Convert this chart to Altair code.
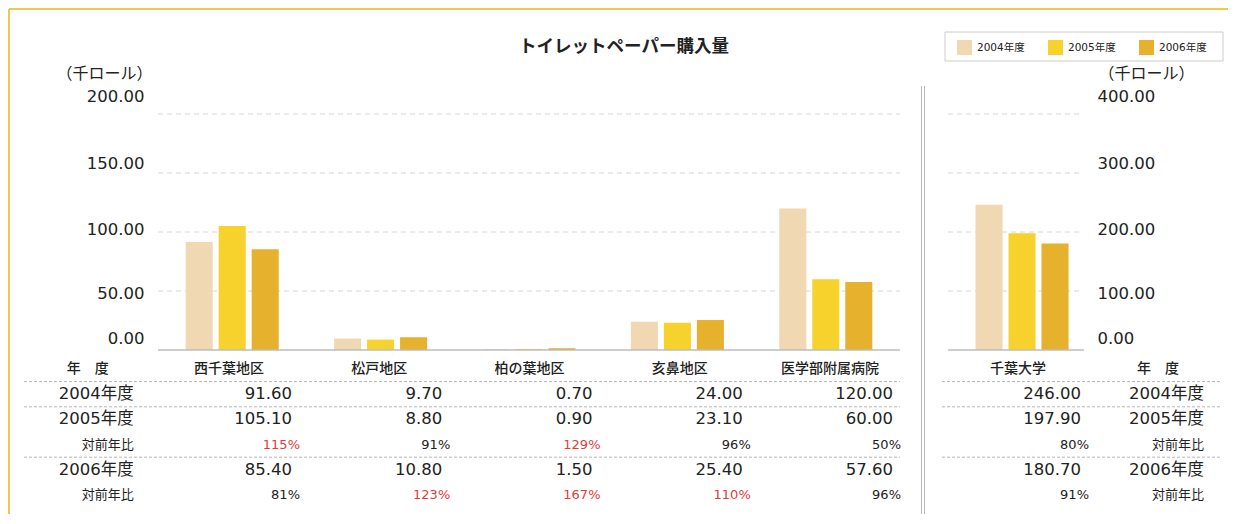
import altair as alt
import pandas as pd

FONT = "DejaVu Sans, Noto Sans CJK JP"
JP = "Noto Sans CJK JP"

title_text = "トイレットペーパー購入量"
years = ["2004年度", "2005年度", "2006年度"]
colors = ["#F0D8B2", "#F7D22C", "#E6B12C"]
unit_label = "（千ロール）"
label_col = "年　度"
ratio_label = "対前年比"

regions = ["西千葉地区", "松戸地区", "柏の葉地区", "亥鼻地区", "医学部附属病院"]
reg_2004 = [91.60, 9.70, 0.70, 24.00, 120.00]
reg_2005 = [105.10, 8.80, 0.90, 23.10, 60.00]
reg_2006 = [85.40, 10.80, 1.50, 25.40, 57.60]
reg_pct_2005 = [115, 91, 129, 96, 50]
reg_pct_2006 = [81, 123, 167, 110, 96]

univ = ["千葉大学"]
univ_2004 = [246.00]
univ_2005 = [197.90]
univ_2006 = [180.70]
univ_pct_2005 = [80]
univ_pct_2006 = [91]

left_ticks = [0, 50, 100, 150, 200]
right_ticks = [0, 100, 200, 300, 400]
tick_label_shift = [-12, 2, -3, -10, -18]
rows = ["header", "2004年度", "2005年度", "ratio2005", "2006年度", "ratio2006"]

one = pd.DataFrame({"a": [0]})


def bars_df(cats, v04, v05, v06):
    recs = []
    for vals, y in zip((v04, v05, v06), years):
        for c, v in zip(cats, vals):
            recs.append({"cat": c, "year": y, "v": v})
    return pd.DataFrame(recs)


def values_df(cats, v04, v05, v06):
    recs = []
    for vals, r in zip((v04, v05, v06), ["2004年度", "2005年度", "2006年度"]):
        for c, v in zip(cats, vals):
            recs.append({"cat": c, "row": r, "v": v})
    return pd.DataFrame(recs)


def pct_df(cats, p05, p06):
    recs = []
    for vals, r in zip((p05, p06), ["ratio2005", "ratio2006"]):
        for c, p in zip(cats, vals):
            recs.append({"cat": c, "row": r, "pct": p, "label": f"{p}%"})
    return pd.DataFrame(recs)


LEG = alt.Legend(
    orient="none", legendX=799, legendY=-74, direction="horizontal", title=None,
    symbolType="square", symbolSize=225, symbolStrokeWidth=0,
    labelFont=FONT, labelFontSize=10.5, labelColor="#222", labelOffset=5,
    padding=0, columnPadding=23,
)


def make_panel(cats, v04, v05, v06, p05, p06, x_domain, x_range, pad_in, off_pad,
               y_max, ticks, orient, width, grid_w, lab_dx, hdr_dx, sep_x, sep_x2, extra,
               title_x, title_align, tbl_scale=None):
    xs = alt.Scale(domain=x_domain, range=x_range, paddingInner=pad_in, paddingOuter=pad_in / 2)
    ts = tbl_scale if tbl_scale is not None else xs

    def X():
        return alt.X("cat:N", scale=xs, axis=None)

    def XT():
        return alt.X("cat:N", scale=ts, axis=None)

    ys = alt.Scale(domain=[0, y_max], range=[236, 0], nice=False)

    def Yr():
        return alt.Y("row:N", scale=alt.Scale(type="point", domain=rows, range=[255, 381], padding=0), axis=None)

    offset_cond = {
        "condition": [{"test": f"datum.value === {t}", "value": s} for t, s in zip(ticks, tick_label_shift)],
        "value": -8,
    }

    yaxis = alt.Axis(
        values=ticks, format=".2f", orient=orient, domain=False, ticks=False, grid=False,
        labelFont=FONT, labelFontSize=16.5,
        labelColor="#222", labelPadding=14 if orient == "left" else 13,
        labelAlign="right" if orient == "left" else "left",
        labelBaseline="middle", labelOffset=offset_cond,
        title=unit_label, titleAngle=0, titleX=title_x, titleY=-41, titleAlign=title_align,
        titleBaseline="middle", titleFont=JP, titleFontSize=16, titleFontWeight="normal",
        titleColor="#222",
    )

    grid = alt.Chart(pd.DataFrame({"t": ticks[1:]})).mark_rule(
        color="#d6d6d6", strokeDash=[5, 4], strokeWidth=1
    ).encode(y=alt.Y("t:Q", scale=ys, axis=None), x=alt.value(0), x2=alt.value(grid_w))

    bars = alt.Chart(bars_df(cats, v04, v05, v06)).mark_bar().encode(
        x=X(),
        xOffset=alt.XOffset("year:N", scale=alt.Scale(domain=years, paddingInner=off_pad, paddingOuter=0)),
        y=alt.Y("v:Q", scale=ys, axis=yaxis),
        color=alt.Color("year:N", scale=alt.Scale(domain=years, range=colors), legend=LEG),
    )

    base = alt.Chart(one).mark_rule(color="#bdbdbd", strokeWidth=1.5).encode(
        y=alt.Y(datum=0, type="quantitative", scale=ys, axis=None),
        x=alt.value(0), x2=alt.value(width),
    )

    headers = pd.DataFrame({"cat": cats, "row": ["header"] * len(cats), "text": cats})
    head = alt.Chart(headers).mark_text(font=JP, fontSize=14, fontWeight=500, color="#222",
                                        baseline="middle").encode(x=XT(), y=Yr(), text="text:N")
    lhead = alt.Chart(pd.DataFrame({"cat": [label_col], "row": ["header"], "text": [label_col]})).mark_text(
        font=JP, fontSize=14, fontWeight=500, color="#222", baseline="middle", dx=hdr_dx
    ).encode(x=XT(), y=Yr(), text="text:N")

    yl = pd.DataFrame({"cat": [label_col] * 3, "row": ["2004年度", "2005年度", "2006年度"],
                       "text": ["2004年度", "2005年度", "2006年度"]})
    year_lab = alt.Chart(yl).mark_text(font=FONT, fontSize=16.5, color="#222", align="right",
                                       baseline="middle", dx=lab_dx).encode(x=XT(), y=Yr(), text="text:N")

    rl = pd.DataFrame({"cat": [label_col] * 2, "row": ["ratio2005", "ratio2006"],
                       "text": [ratio_label] * 2})
    ratio_lab = alt.Chart(rl).mark_text(font=JP, fontSize=13, color="#222", align="right",
                                        baseline="middle", dx=lab_dx).encode(x=XT(), y=Yr(), text="text:N")

    vals = alt.Chart(values_df(cats, v04, v05, v06)).mark_text(
        font=FONT, fontSize=16.5, color="#222", align="right", baseline="middle", dx=63
    ).encode(x=XT(), y=Yr(), text=alt.Text("v:Q", format=".2f"))

    pcts = alt.Chart(pct_df(cats, p05, p06)).mark_text(
        font=FONT, fontSize=13, align="right", baseline="middle", dx=71
    ).encode(
        x=XT(), y=Yr(), text="label:N",
        color=alt.condition("datum.pct > 100", alt.value("#E23B3B"), alt.value("#222")),
    )

    seps = alt.Chart(pd.DataFrame({"row": ["2004年度", "2005年度", "2006年度"]})).mark_rule(
        color="#b5b5b5", strokeDash=[3, 2], strokeWidth=1, yOffset=-12.6
    ).encode(y=Yr(), x=alt.value(sep_x), x2=alt.value(sep_x2))

    layers = extra + [grid, bars, base, seps, head, lhead, year_lab, ratio_lab, vals, pcts]
    return alt.layer(*layers).resolve_scale(y="independent", x="independent").properties(
        width=width, height=400)


# decorations (frame, title, legend box, divider)
yellow_top = alt.Chart(one).mark_rule(color="#EFC84A", strokeWidth=2).encode(
    x=alt.value(-149), x2=alt.value(1070), y=alt.value(-105))
yellow_left = alt.Chart(one).mark_rule(color="#EFC84A", strokeWidth=2).encode(
    x=alt.value(-149), y=alt.value(-105), y2=alt.value(400))
title = alt.Chart(one).mark_text(text=title_text, font=JP, fontSize=17.5, fontWeight="bold",
                                 color="#222", baseline="middle").encode(
    x=alt.value(466), y=alt.value(-67))
legend_box = alt.Chart(one).mark_rect(fill="white", stroke="#cccccc", strokeWidth=1).encode(
    x=alt.value(-3), x2=alt.value(275), y=alt.value(-82), y2=alt.value(-53))
div1 = alt.Chart(one).mark_rule(color="#b8b8b8", strokeWidth=1).encode(
    x=alt.value(-26.5), y=alt.value(-28), y2=alt.value(400))
div2 = alt.Chart(one).mark_rule(color="#b8b8b8", strokeWidth=1).encode(
    x=alt.value(-23.5), y=alt.value(-28), y2=alt.value(400))

left_table_scale = alt.Scale(type="point", domain=[label_col] + regions, range=[-79.25, 672], padding=0)

left = make_panel(regions, reg_2004, reg_2005, reg_2006, reg_pct_2005, reg_pct_2006,
                  [label_col] + regions, [-148.4, 742], 0.373, 0.18,
                  200, left_ticks, "left", 742, 742, 55, 9, -134, 742,
                  [yellow_top, yellow_left, title], -6, "right", left_table_scale)

right = make_panel(univ, univ_2004, univ_2005, univ_2006, univ_pct_2005, univ_pct_2006,
                   univ + [label_col], [0, 280], 0.393, 0.167,
                   400, right_ticks, "right", 136, 132, 46, 0, -6, 274,
                   [legend_box, div1, div2], 14, "left")

chart = alt.hconcat(left, right, spacing=48, bounds="flush").properties(
    padding=0, background="white"
).configure_view(strokeWidth=0, strokeOpacity=0)

chart.save("out.html", embed_options={"renderer": "svg", "actions": False})
